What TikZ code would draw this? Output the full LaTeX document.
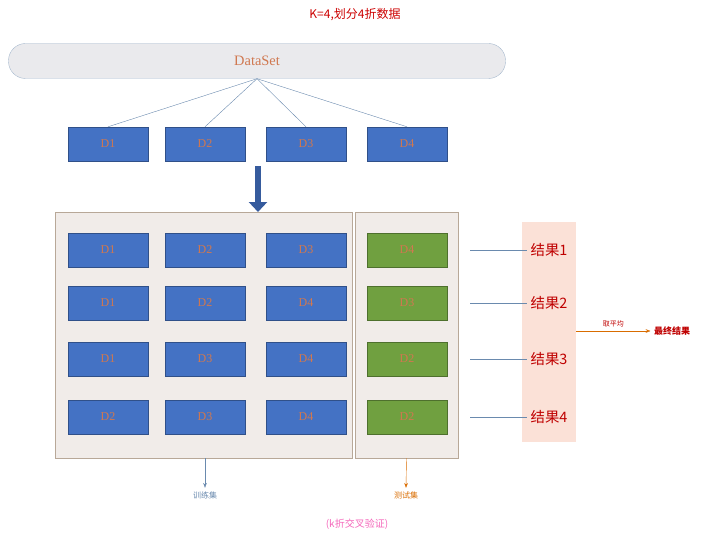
\documentclass[tikz,border=0pt]{standalone}
\usepackage{fontspec}
\setmainfont{Liberation Serif}
\newfontfamily\cjk{Noto Sans CJK SC}
\usetikzlibrary{arrows.meta}
\definecolor{boxblue}{HTML}{4472C4}
\definecolor{boxgreen}{HTML}{70A040}
\definecolor{labtxt}{HTML}{D07850}
\definecolor{panel}{HTML}{F1ECE9}
\definecolor{panelline}{HTML}{B8A898}
\definecolor{respanel}{HTML}{FBE1D7}
\definecolor{linkblue}{HTML}{6A8AAE}
\tikzset{
  fold/.style={draw=boxblue!70!black, fill=boxblue, minimum width=80pt, minimum height=34pt, inner sep=0pt, text=labtxt, font=\large},
  testfold/.style={fold, draw=boxgreen!70!black, fill=boxgreen},
  result/.style={text=red!75!black, font=\cjk\Large},
  smalllab/.style={font=\cjk\footnotesize}
}
\begin{document}
\begin{tikzpicture}[x=1pt,y=-1pt]
\useasboundingbox (0,0) rectangle (711,556);
% title
\node (title) at (355,15) {\cjk\large\textcolor{red!80!black}{K=4,划分4折数据}};
% dataset bar
\node (data) [draw=linkblue!60, fill=blue!8!gray!15, rounded corners=17pt, minimum width=497pt, minimum height=35pt, text=labtxt, font=\Large] at (257,61) {DataSet};
% first folds
\foreach \i/\x in {1/108,2/205,3/306,4/407}{
  \node (d\i) [fold] at (\x,144) {D\i};
  \draw [linkblue] (data.south) -- (d\i.north);
}
% big arrow
\draw [boxblue!80!black, line width=6pt, -{Triangle[length=10pt,width=18pt]}] (258,166) -- (258,212);
% panels
\node (train) [draw=panelline, fill=panel, minimum width=297pt, minimum height=246pt, inner sep=0pt] at (203.5,335) {};
\node (test) [draw=panelline, fill=panel, minimum width=103pt, minimum height=246pt, inner sep=0pt] at (406.5,335) {};
\node (res) [fill=respanel, minimum width=54pt, minimum height=220pt, inner sep=0pt] at (549,332) {};
% rows
\foreach \r/\y/\a/\b/\c/\t in {1/250/D1/D2/D3/D4, 2/303/D1/D2/D4/D3, 3/359/D1/D3/D4/D2, 4/417/D2/D3/D4/D2}{
  \node (a\r) [fold] at (108,\y) {\a};
  \node (b\r) [fold] at (205,\y) {\b};
  \node (c\r) [fold] at (306,\y) {\c};
  \node (t\r) [testfold] at (407,\y) {\t};
  \coordinate (l\r) at (470,\y);
  \node (r\r) [result] at (549,\y) {结果\r};
  \draw [linkblue] (l\r) -- (r\r.west);
}
% final
\node (final) [font=\cjk\small\bfseries, text=red!75!black] at (672,331) {最终结果};
\draw [orange!85!black, -{Stealth}] (res.east |- final) -- node [above, font=\cjk\scriptsize, text=red!75!black] {取平均} (final.west);
% set labels
\node (trainlab) [smalllab, text=linkblue] at (205,495) {训练集};
\node (testlab) [smalllab, text=orange!85!black] at (406,495) {测试集};
\draw [linkblue, -{Stealth}] (train.south -| trainlab) -- (trainlab.north);
\draw [orange!85!black, -{Stealth}] (test.south) -- (testlab.north);
\node (caption) [font=\cjk, text=magenta!60] at (357,524) {(k折交叉验证)};
\end{tikzpicture}
\end{document}
